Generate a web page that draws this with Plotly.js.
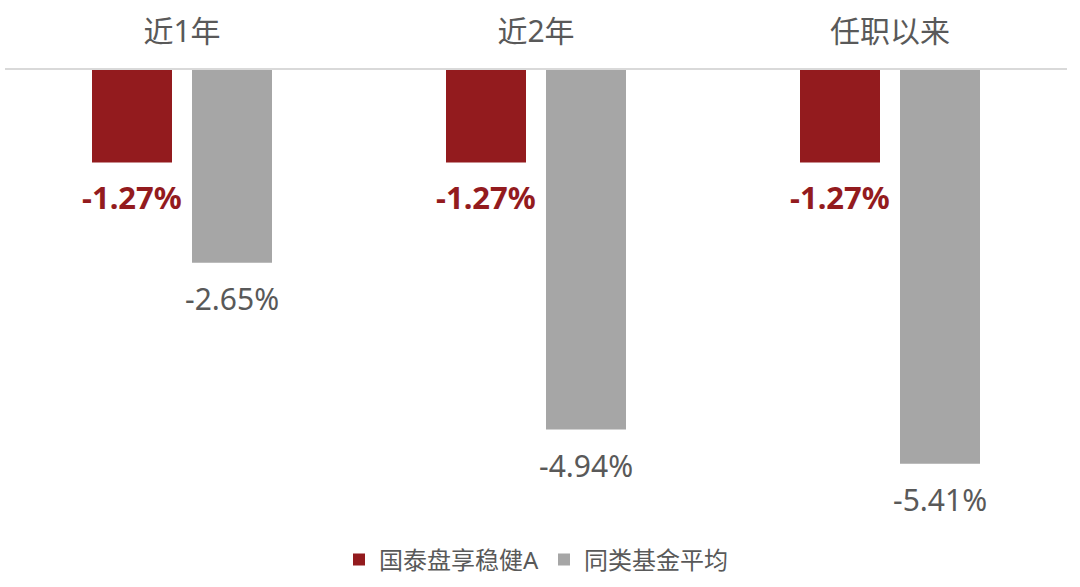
<!DOCTYPE html>
<html><head><meta charset="utf-8">
<script src="https://cdn.plot.ly/plotly-3.0.1.min.js"></script>
<style>html,body{margin:0;padding:0;background:#fff}#chart{width:1080px;height:587px}</style>
</head><body><div id="chart"></div>
<script>
const categories = ["近1年", "近2年", "任职以来"];
const seriesNames = ["国泰盘享稳健A", "同类基金平均"];
const fundValues = [-1.27, -1.27, -1.27];
const peerValues = [-2.65, -4.94, -5.41];
const colors = ["#931B1E", "#A6A6A6"];
const FONT = "'Noto Sans', 'Noto Sans CJK SC', sans-serif";

const traces = [fundValues, peerValues].map((vals, i) => ({
  type: "bar", x: categories, y: vals, name: seriesNames[i],
  marker: {color: colors[i]}, hoverinfo: "skip"
}));

const annotations = [];
[fundValues, peerValues].forEach((vals, i) => {
  vals.forEach((v, j) => {
    annotations.push({
      x: categories[j], y: v, xref: "x", yref: "y",
      text: v.toFixed(2) + "%", showarrow: false,
      xshift: i === 0 ? -50 : 50, yshift: i === 0 ? -35 : -36, yanchor: "middle",
      font: {family: FONT, size: i === 0 ? 31 : 30, color: i === 0 ? "#931B1E" : "#595959", weight: i === 0 ? "bold" : "normal"}
    });
  });
});

const layout = {
  width: 1080, height: 587,
  margin: {l: 5, r: 13, t: 70, b: 67},
  paper_bgcolor: "#fff", plot_bgcolor: "#fff",
  barmode: "group", bargap: 0.435, bargroupgap: 0.2,
  font: {family: FONT, color: "#595959"},
  xaxis: {side: "top", showline: true, linecolor: "#D9D9D9", linewidth: 2,
          ticks: "", tickfont: {size: 30, color: "#595959"}, ticklabelstandoff: 14,
          showgrid: false, zeroline: false, fixedrange: true},
  yaxis: {range: [-6.06, 0], visible: false, showgrid: false, zeroline: false, fixedrange: true},
  showlegend: true,
  legend: {orientation: "h", x: 0.5, xanchor: "center", y: -0.06, yanchor: "top",
           font: {size: 24, color: "#595959"}},
  annotations: annotations
};
Plotly.newPlot("chart", traces, layout, {displayModeBar: false, staticPlot: true});
</script></body></html>
